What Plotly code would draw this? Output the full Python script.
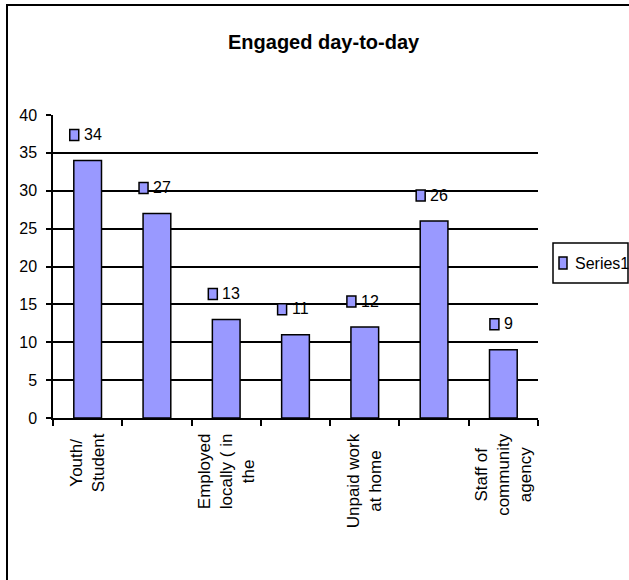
import plotly.graph_objects as go

# ---- data ----
chart_title = "Engaged day-to-day"
series_name = "Series1"
category_labels = [
    "Youth/<br>Student",
    "",
    "Employed<br>locally ( in<br>the",
    "",
    "Unpaid work<br>at home",
    "",
    "Staff of<br>community<br>agency",
]
values = [34, 27, 13, 11, 12, 26, 9]
y_ticks = [0, 5, 10, 15, 20, 25, 30, 35, 40]

# ---- style ----
BAR_FILL = "#9999FF"
INK = "#000000"
FONT = "Liberation Sans, Arial, sans-serif"
W, H = 629, 580
L, R, T, B = 53, 538, 115, 418  # plot area in pixels


def px_x(p):
    return (p - L) / (R - L)


def px_y(p):
    return (B - p) / (B - T)


idx = list(range(len(values)))
boundaries = [i - 0.5 for i in range(len(values) + 1)]

fig = go.Figure()
fig.add_trace(go.Bar(
    x=idx, y=values, name=series_name, width=0.4,
    marker=dict(color=BAR_FILL, line=dict(color=INK, width=1.5)),
    showlegend=False, hoverinfo="y",
))

annotations = []
shapes = []

# value labels with a small legend key beside each
label_font = 16
for i, v in enumerate(values):
    tw = len(str(v)) * 0.556 * label_font
    annotations.append(dict(
        x=i, y=v, xref="x", yref="y", text=str(v), showarrow=False,
        xanchor="center", yanchor="middle", xshift=5, yshift=26,
        font=dict(family=FONT, size=label_font, color=INK),
    ))
    cx = 5 - tw / 2 - 5 - 4.5
    shapes.append(dict(
        type="rect", xref="x", yref="y",
        xsizemode="pixel", ysizemode="pixel", xanchor=i, yanchor=v,
        x0=cx - 4.5, x1=cx + 4.5, y0=20, y1=31,
        fillcolor=BAR_FILL, line=dict(color=INK, width=1.5),
    ))

# category labels, rotated and centred under each category
for i, lab in enumerate(category_labels):
    if not lab:
        continue
    annotations.append(dict(
        x=i, y=0, xref="x", yref="paper", text=lab, showarrow=False,
        textangle=-90, align="center", xanchor="center", yanchor="top",
        yshift=-13, font=dict(family=FONT, size=17, color=INK),
    ))

# title
annotations.append(dict(
    x=px_x(324), y=px_y(42), xref="paper", yref="paper",
    text="<b>" + chart_title + "</b>", showarrow=False,
    xanchor="center", yanchor="middle",
    font=dict(family=FONT, size=20, color=INK),
))

# legend box
shapes.append(dict(
    type="rect", xref="paper", yref="paper",
    x0=px_x(553), x1=px_x(628), y0=px_y(283), y1=px_y(243),
    line=dict(color=INK, width=1.5), fillcolor="white",
))
shapes.append(dict(
    type="rect", xref="paper", yref="paper",
    x0=px_x(559), x1=px_x(567), y0=px_y(269), y1=px_y(257),
    line=dict(color=INK, width=1.5), fillcolor=BAR_FILL,
))
annotations.append(dict(
    x=px_x(573), y=px_y(263), xref="paper", yref="paper",
    text=series_name, showarrow=False, xanchor="left", yanchor="middle",
    font=dict(family=FONT, size=16, color=INK),
))

# chart frame
shapes.append(dict(
    type="rect", xref="paper", yref="paper", layer="below",
    x0=px_x(7), x1=px_x(720), y0=px_y(700), y1=px_y(5),
    line=dict(color=INK, width=2),
))

fig.update_layout(
    width=W, height=H,
    margin=dict(l=L, r=W - R, t=T, b=H - B, pad=0),
    paper_bgcolor="white", plot_bgcolor="white",
    font=dict(family=FONT, color=INK),
    annotations=annotations, shapes=shapes,
    xaxis=dict(
        range=[-0.5, len(values) - 0.5], tickvals=boundaries,
        showticklabels=False, ticks="outside", ticklen=6,
        tickwidth=1.5, tickcolor=INK, showline=True, linecolor=INK,
        linewidth=1.5, showgrid=False, zeroline=False, fixedrange=True,
    ),
    yaxis=dict(
        range=[0, 40], tickvals=y_ticks, ticks="outside", ticklen=5,
        tickwidth=1.5, tickcolor=INK, showline=True, linecolor=INK,
        linewidth=1.5, showgrid=True, gridcolor=INK, gridwidth=1.5,
        zeroline=False, ticklabelstandoff=6, fixedrange=True,
        tickfont=dict(family=FONT, size=16, color=INK),
    ),
    bargap=0.6,
)

fig.write_html("out.html")
